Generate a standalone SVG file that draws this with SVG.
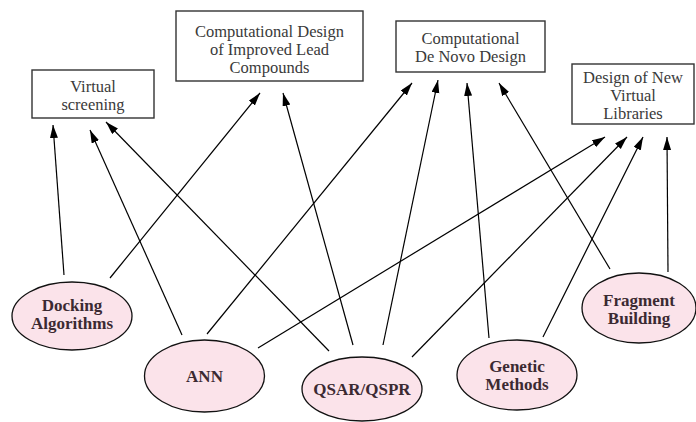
<svg xmlns="http://www.w3.org/2000/svg" width="696" height="422" viewBox="0 0 696 422">
<defs>
<marker id="ah" markerUnits="userSpaceOnUse" markerWidth="14" markerHeight="10" refX="13" refY="4" orient="auto">
<path d="M0,0 L13,4 L0,8 Z" fill="#000"/>
</marker>
<style>
.box rect{fill:#fff;stroke:#333;stroke-width:1.4}
.box text{font-family:"Liberation Serif","Times New Roman",serif;font-size:16.5px;fill:#3a3a3a;text-anchor:middle}
.node ellipse{fill:#fbe3ea;stroke:#111;stroke-width:1.3}
.node text{font-family:"Liberation Serif","Times New Roman",serif;font-size:17px;font-weight:bold;fill:#3b2a32;text-anchor:middle}
#connectors line{stroke:#000;stroke-width:1.2;marker-end:url(#ah)}
</style>
</defs>
<rect width="696" height="422" fill="#fff"/>
<g id="connectors">
<line x1="64" y1="275" x2="53" y2="125"/>
<line x1="110" y1="278" x2="260" y2="93"/>
<line x1="182" y1="335" x2="90" y2="130"/>
<line x1="207" y1="334" x2="412" y2="83"/>
<line x1="258" y1="348" x2="605" y2="137"/>
<line x1="329" y1="351" x2="106" y2="122"/>
<line x1="353" y1="345" x2="283" y2="93"/>
<line x1="383" y1="345" x2="438" y2="80"/>
<line x1="412" y1="357" x2="627" y2="137"/>
<line x1="489" y1="338" x2="467" y2="83"/>
<line x1="543" y1="337" x2="643" y2="137"/>
<line x1="610" y1="269" x2="499" y2="83"/>
<line x1="668" y1="272" x2="667" y2="137"/>
</g>
<g id="virtual-screening" class="box">
<rect x="32" y="70" width="122" height="48"/>
<text x="93" y="92">Virtual</text>
<text x="93" y="110">screening</text>
</g>
<g id="improved-lead" class="box">
<rect x="176" y="11" width="187" height="70"/>
<text x="269.5" y="37">Computational Design</text>
<text x="269.5" y="55">of Improved Lead</text>
<text x="269.5" y="73">Compounds</text>
</g>
<g id="de-novo" class="box">
<rect x="396" y="21" width="149" height="51"/>
<text x="470.5" y="44">Computational</text>
<text x="470.5" y="62">De Novo Design</text>
</g>
<g id="virtual-libraries" class="box">
<rect x="572" y="64" width="122" height="60"/>
<text x="633" y="83">Design of New</text>
<text x="633" y="101">Virtual</text>
<text x="633" y="119">Libraries</text>
</g>
<g id="docking" class="node">
<ellipse cx="72" cy="316" rx="60" ry="34"/>
<text x="72" y="311">Docking</text>
<text x="72" y="329">Algorithms</text>
</g>
<g id="ann" class="node">
<ellipse cx="204.5" cy="376" rx="60" ry="36"/>
<text x="204.5" y="382">ANN</text>
</g>
<g id="qsar" class="node">
<ellipse cx="362" cy="389" rx="60" ry="32"/>
<text x="362" y="395">QSAR/QSPR</text>
</g>
<g id="genetic" class="node">
<ellipse cx="517" cy="375" rx="60" ry="35"/>
<text x="517" y="372">Genetic</text>
<text x="517" y="390">Methods</text>
</g>
<g id="fragment" class="node">
<ellipse cx="639" cy="308" rx="57" ry="35"/>
<text x="639" y="306">Fragment</text>
<text x="639" y="324">Building</text>
</g>
</svg>
